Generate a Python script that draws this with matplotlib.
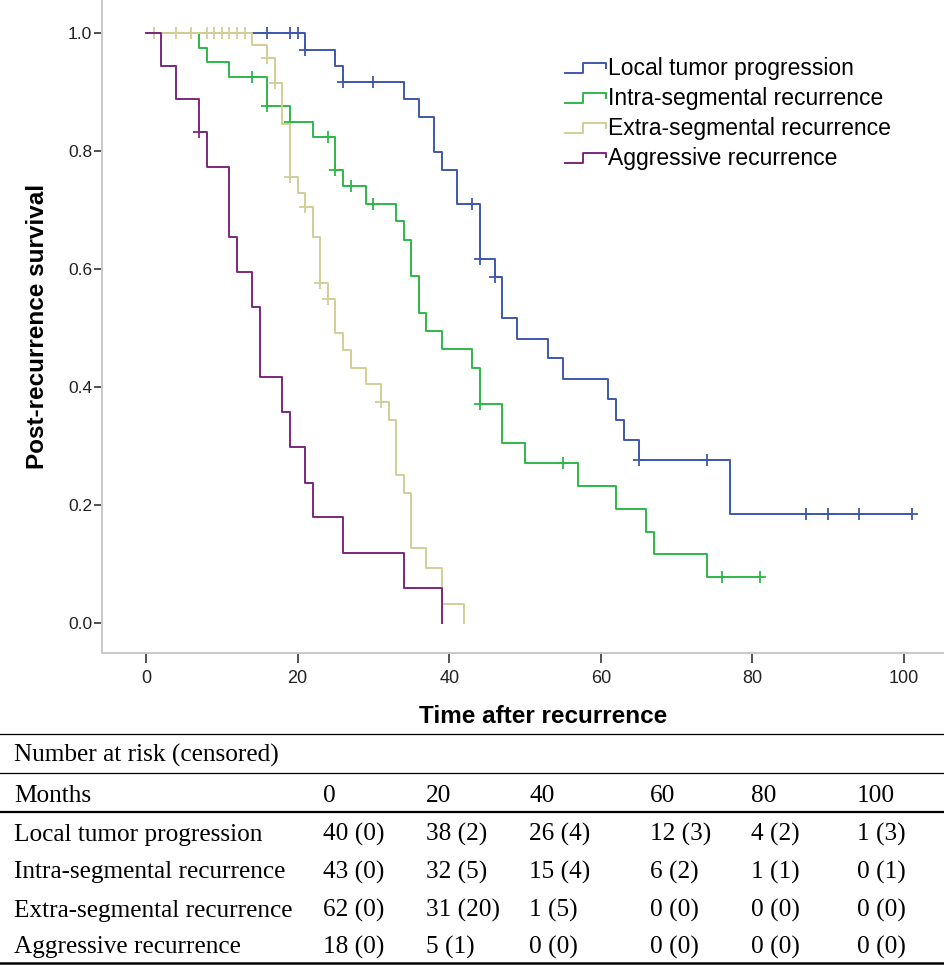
import numpy as np
import matplotlib
matplotlib.use("Agg")
import matplotlib.pyplot as plt
from matplotlib.lines import Line2D
from matplotlib.legend_handler import HandlerBase

# Kaplan-Meier steps (months, survival after the step)

ltp_times = [0, 21, 25, 26, 34, 36, 38, 39, 41, 44, 46, 47, 49, 53, 55, 61, 62, 63, 65, 77]
ltp_surv = [1.0, 0.972, 0.945, 0.917, 0.888, 0.858, 0.799, 0.769, 0.710, 0.618, 0.586,
            0.517, 0.482, 0.449, 0.414, 0.379, 0.345, 0.311, 0.276, 0.185]
ltp_cens = [16, 19, 20, 21, 26, 30, 43, 44, 46, 65, 74, 87, 90, 94, 101]

isr_times = [0, 7, 8, 11, 16, 19, 22, 25, 26, 29, 33, 34, 35, 36, 37, 39, 43, 44, 47, 50,
             57, 62, 66, 67, 74]
isr_surv = [1.0, 0.975, 0.951, 0.926, 0.876, 0.850, 0.824, 0.768, 0.741, 0.711, 0.681,
            0.649, 0.588, 0.526, 0.495, 0.464, 0.433, 0.372, 0.305, 0.271, 0.233, 0.193,
            0.155, 0.117, 0.078]
isr_cens = [14, 16, 19, 24, 25, 27, 30, 44, 55, 76, 81]

esr_times = [0, 14, 16, 17, 18, 19, 20, 21, 22, 23, 24, 25, 26, 27, 29, 31, 32, 33, 34,
             35, 37, 39, 42]
esr_surv = [1.0, 0.981, 0.958, 0.915, 0.847, 0.756, 0.730, 0.706, 0.655, 0.576, 0.549,
            0.492, 0.463, 0.433, 0.405, 0.375, 0.345, 0.251, 0.220, 0.127, 0.094, 0.032, 0.0]
esr_cens = [1, 4, 6, 8, 9, 10, 11, 12, 13, 16, 17, 19, 21, 23, 24, 31]

ar_times = [0, 2, 4, 7, 8, 11, 12, 14, 15, 18, 19, 21, 22, 26, 34, 39]
ar_surv = [1.0, 0.944, 0.889, 0.833, 0.774, 0.655, 0.595, 0.536, 0.417, 0.357, 0.298,
           0.238, 0.179, 0.119, 0.060, 0.0]
ar_cens = [7]

group_names = ["Local tumor progression", "Intra-segmental recurrence",
               "Extra-segmental recurrence", "Aggressive recurrence"]

# Number at risk table
table_months = [0, 20, 40, 60, 80, 100]
ltp_n = [40, 38, 26, 12, 4, 1]
ltp_c = [0, 2, 4, 3, 2, 3]
isr_n = [43, 32, 15, 6, 1, 0]
isr_c = [0, 5, 4, 2, 1, 1]
esr_n = [62, 31, 1, 0, 0, 0]
esr_c = [0, 20, 5, 0, 0, 0]
ar_n = [18, 5, 0, 0, 0, 0]
ar_c = [0, 1, 0, 0, 0, 0]

colors = ["#3e58ac", "#2eb848", "#d3ce97", "#7c287d"]

W, H = 945, 965


def fx(px):
    return px / W


def fy(py):
    return 1 - py / H


class StepHandler(HandlerBase):
    def create_artists(self, legend, orig_handle, xdescent, ydescent, width, height,
                       fontsize, trans):
        xs = np.array([0, 0.45, 0.45, 1.0, 1.0]) * width - xdescent
        ys = np.array([0.1, 0.1, 0.75, 0.75, 0.45]) * height - ydescent
        line = Line2D(xs, ys, color=orig_handle.get_color(), lw=orig_handle.get_linewidth())
        line.set_transform(trans)
        return [line]


fig = plt.figure(figsize=(W / 100, H / 100), dpi=100)
ax = fig.add_axes([fx(102), fy(653), fx(945) - fx(102), fy(0) - fy(653)])

groups = [
    (ltp_times, ltp_surv, ltp_cens),
    (isr_times, isr_surv, isr_cens),
    (esr_times, esr_surv, esr_cens),
    (ar_times, ar_surv, ar_cens),
]

handles = []
for (t, s, c), col, name in zip(groups, colors, group_names):
    t = list(t)
    s = list(s)
    if max(c) > t[-1]:
        t.append(max(c))
        s.append(s[-1])
    ln, = ax.step(t, s, where="post", color=col, lw=1.4)
    idx = np.searchsorted(t, c, side="right") - 1
    ax.plot(c, np.array(s)[idx], ls="none", marker="+", ms=8, mew=1.3, color=col)
    handles.append(ln)

ax.set_xlim(-5.8, 105.4)
ax.set_ylim(-0.051, 1.0565)
ax.set_xticks(range(0, 101, 20))
ax.set_yticks(np.arange(0, 1.01, 0.2))
ax.set_yticklabels(["%.1f" % v for v in np.arange(0, 1.01, 0.2)])

for side in ["top", "right"]:
    ax.spines[side].set_visible(False)
for side in ["left", "bottom"]:
    ax.spines[side].set_color("#c8c8c8")
    ax.spines[side].set_linewidth(1.4)

ax.tick_params(axis="y", direction="out", length=5.5, width=1.1, color="#222222",
               pad=1.5, labelsize=12.5)
ax.tick_params(axis="x", direction="out", length=7, width=1.1, color="#222222",
               pad=5, labelsize=13)
for lab in ax.get_xticklabels() + ax.get_yticklabels():
    lab.set_fontfamily("Liberation Sans")
    lab.set_color("#222222")

ax.set_xlabel("Time after recurrence", fontsize=17.5, fontweight="bold",
              family="Liberation Sans")
ax.xaxis.set_label_coords((543 - 102) / 843, (653 - 723) / 653)
ax.xaxis.label.set_va("baseline")
ax.set_ylabel("Post-recurrence survival", fontsize=17.5, fontweight="bold",
              family="Liberation Sans")
ax.yaxis.set_label_coords((38 - 102) / 843, 0.5)
ax.yaxis.label.set_va("center")

leg = ax.legend(handles, group_names, loc="upper left",
                bbox_to_anchor=(fx(565), fy(57)), bbox_transform=fig.transFigure,
                frameon=False, borderpad=0, borderaxespad=0,
                handlelength=1.79, handletextpad=0.1, labelspacing=0.3,
                handler_map={Line2D: StepHandler()},
                prop={"family": "Liberation Sans", "size": 16.5})

# table below the chart
serif = {"family": "Liberation Serif", "size": 18.2}
col_x = [323, 426, 529, 650, 751, 857]
label_x = 14

fig.text(fx(label_x), fy(762), "Number at risk (censored)", va="baseline", **serif)
fig.text(fx(label_x), fy(801.5), "Months", va="baseline", **serif)
for m, x in zip(table_months, col_x):
    fig.text(fx(x), fy(801.5), str(m), va="baseline", **serif)

rows = [(ltp_n, ltp_c), (isr_n, isr_c), (esr_n, esr_c), (ar_n, ar_c)]
row_y = [840.5, 878.3, 916.5, 953.3]
for (n, c), name, y in zip(rows, group_names, row_y):
    fig.text(fx(label_x), fy(y), name, va="baseline", **serif)
    for ni, ci, x in zip(n, c, col_x):
        fig.text(fx(x), fy(y), "%d (%d)" % (ni, ci), va="baseline", **serif)

for y, lw in [(733.5, 0.9), (773, 0.9), (812, 1.6), (963, 1.8)]:
    fig.add_artist(Line2D([0, 1], [fy(y), fy(y)], transform=fig.transFigure,
                          color="black", lw=lw))

fig.savefig("out.png", dpi=100)
